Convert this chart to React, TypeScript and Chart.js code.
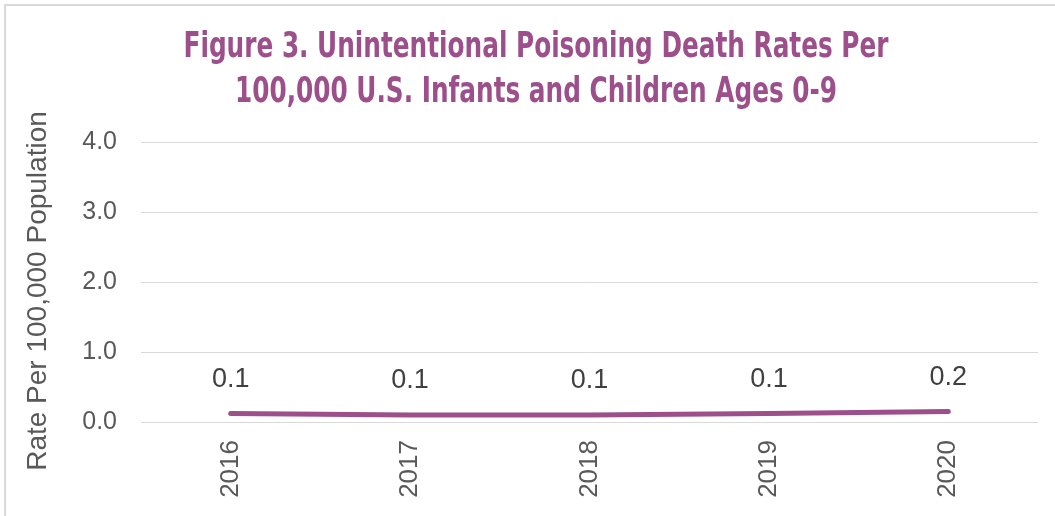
import React, { useEffect, useRef } from "react";
import { Chart, registerables } from "chart.js";

Chart.register(...registerables);

// Reporting years and unintentional poisoning death rates per 100,000 (ages 0-9)
const years: string[] = ["2016", "2017", "2018", "2019", "2020"];
const rates: number[] = [0.12, 0.1, 0.1, 0.12, 0.15];
const yTickValues: number[] = [0, 1, 2, 3, 4];

const titleLines: string[] = [
  "Figure 3. Unintentional Poisoning Death Rates Per",
  "100,000 U.S. Infants and Children Ages 0-9",
];
const yAxisTitle = "Rate Per 100,000 Population";

const PURPLE = "#9c4f8b";
const TEXT_GREY = "#595959";
const LABEL_DARK = "#404040";
const GRID = "#d9d9d9";
const SANS = "'Liberation Sans', Arial, sans-serif";
const NARROW = "'Liberation Sans Narrow', 'DejaVu Sans Condensed', 'Liberation Sans', sans-serif";

const fmt = (v: number) => (Math.round(v * 10) / 10).toFixed(1);

// Title, rotated axis title and value labels drawn on top of the chart
const decorations = {
  id: "decorations",
  afterDraw(chart: any) {
    const ctx: CanvasRenderingContext2D = chart.ctx;
    ctx.save();

    // two-line chart title, fitted to a fixed width
    ctx.fillStyle = PURPLE;
    ctx.font = `bold 36px ${NARROW}`;
    ctx.textAlign = "center";
    ctx.textBaseline = "middle";
    const w = ctx.measureText(titleLines[0]).width;
    const sx = 705 / w;
    const cx = 536;
    [48, 93].forEach((y, i) => {
      ctx.save();
      ctx.translate(cx, y);
      ctx.scale(sx, 1);
      ctx.fillText(titleLines[i], 0, 0);
      ctx.restore();
    });

    // vertical axis title
    ctx.save();
    ctx.translate(38, 291);
    ctx.rotate(-Math.PI / 2);
    ctx.fillStyle = TEXT_GREY;
    ctx.font = `28px ${SANS}`;
    ctx.textAlign = "center";
    ctx.textBaseline = "middle";
    ctx.fillText(yAxisTitle, 0, 0);
    ctx.restore();

    // value labels above each point
    const meta = chart.getDatasetMeta(0);
    ctx.fillStyle = LABEL_DARK;
    ctx.font = `27px ${SANS}`;
    ctx.textAlign = "center";
    ctx.textBaseline = "middle";
    meta.data.forEach((pt: any, i: number) => {
      ctx.fillText(fmt(rates[i]), pt.x, pt.y - 34);
    });

    ctx.restore();
  },
};

export default function App() {
  const canvasRef = useRef<HTMLCanvasElement | null>(null);

  useEffect(() => {
    const canvas = canvasRef.current;
    if (!canvas) return;
    const chart = new Chart(canvas, {
      type: "line",
      data: {
        labels: years,
        datasets: [
          {
            data: rates,
            borderColor: PURPLE,
            borderWidth: 5,
            borderCapStyle: "round",
            borderJoinStyle: "round",
            pointRadius: 0,
            tension: 0,
            fill: false,
          },
        ],
      },
      options: {
        animation: false,
        responsive: false,
        devicePixelRatio: 1,
        layout: { padding: { top: 142, right: 17, left: 0, bottom: 0 } },
        plugins: {
          legend: { display: false },
          tooltip: { enabled: false },
          title: { display: false },
        },
        scales: {
          x: {
            offset: true,
            grid: { display: false },
            border: { display: false },
            ticks: {
              autoSkip: false,
              minRotation: 90,
              maxRotation: 90,
              padding: 10,
              color: TEXT_GREY,
              font: { family: SANS, size: 26 },
            },
            afterFit: (s: any) => {
              s.height = 94;
            },
          },
          y: {
            min: yTickValues[0],
            max: yTickValues[yTickValues.length - 1],
            afterBuildTicks: (s: any) => {
              s.ticks = yTickValues.map((v) => ({ value: v }));
            },
            grid: { color: GRID, lineWidth: 1, drawTicks: false },
            border: { display: false },
            ticks: {
              padding: 24,
              color: TEXT_GREY,
              font: { family: SANS, size: 25 },
              callback: (v: any) => Number(v).toFixed(1),
            },
            afterFit: (s: any) => {
              s.width = 141;
            },
          },
        },
      },
      plugins: [decorations],
    });
    return () => chart.destroy();
  }, []);

  return (
    <div
      style={{
        position: "fixed",
        left: 0,
        top: 0,
        width: 1055,
        height: 516,
        overflow: "hidden",
        background: "#ffffff",
      }}
    >
      <div
        style={{
          position: "absolute",
          left: 4,
          top: 4,
          width: 2000,
          height: 2000,
          borderTop: "2px solid #d9d9d9",
          borderLeft: "2px solid #d9d9d9",
        }}
      />
      <canvas
        ref={canvasRef}
        width={1055}
        height={516}
        style={{ position: "absolute", left: 0, top: 0 }}
      />
    </div>
  );
}
